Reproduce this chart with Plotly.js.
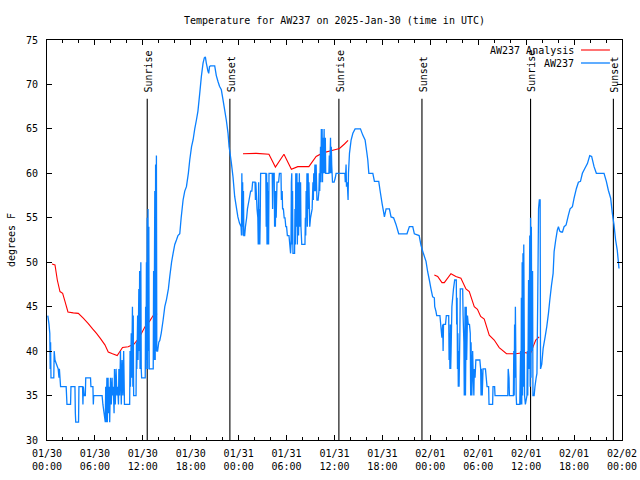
<!DOCTYPE html>
<html>
<head>
<meta charset="utf-8">
<script src="https://cdn.plot.ly/plotly-3.0.1.min.js"></script>
<style>html,body{margin:0;padding:0;background:#fff;}#chart{width:640px;height:480px;}</style>
</head>
<body>
<div id="chart"></div>
<script>
// Hours since 2025-01-30 00:00 UTC, temperature in degrees F
const aw237Obs = [
[0.1,44],[0.25,43],[0.35,42],[0.4,38],[0.45,41],[0.5,37],[0.6,37],[0.85,37],[0.9,40],[1.0,39],[1.2,38.5],[1.4,38],[1.5,37],[1.55,38],[1.7,36],[2.4,36],[2.45,35],[2.5,34],[2.95,34],[3.0,36],[3.5,36],[3.55,33],[3.6,32],[3.95,32],[4.0,36],[4.45,36],[4.5,34],[4.55,36],[4.65,35],[4.8,35],[4.85,37],[5.45,37],[5.5,36],[5.75,36],[5.8,34],[5.85,35],[6.9,35],[7.0,34],[7.15,33],[7.3,32],[7.35,36],[7.4,32],[7.5,37],[7.55,32],[7.65,37],[7.7,33],[7.8,36],[7.85,32],[7.95,37],[8.05,34],[8.15,37],[8.2,35],[8.3,36],[8.4,33],[8.45,38],[8.55,34],[8.65,38],[8.75,35],[8.85,36],[8.95,34],[9.0,38],[9.1,35],[9.2,40],[9.3,34],[9.4,39],[9.5,35],[9.6,40],[9.7,34],[10.35,34],[10.4,40],[10.45,36],[10.55,42],[10.6,37],[10.7,45],[10.75,36],[10.8,44],[10.85,35],[11.15,35],[11.2,41],[11.25,38],[11.35,44],[11.4,39],[11.5,47],[11.55,40],[11.6,49],[11.65,38],[11.75,50],[11.8,38],[11.85,37],[12.3,37],
[12.35,45],[12.4,38],[12.45,50],[12.5,39],[12.55,55],[12.6,38],[12.65,56],[12.7,40],[12.75,54],[12.8,38],[12.9,38],[13.3,38],[13.35,49],[13.4,39],[13.5,58],[13.55,39],[13.6,61],[13.65,40],[13.7,62],[13.75,40],[13.85,40],[14.0,41],
[14.125,41.2],[14.3,42],[14.54,43.5],[14.75,45],[14.96,45.8],[15.2,47],[15.375,48.4],[15.6,50],[15.79,51],[16.0,52],[16.21,52.5],[16.4,53],[16.625,53.2],[16.8,55],[17.04,57],[17.25,58],[17.46,58.5],[17.7,60],[17.875,61.5],[18.1,63],[18.29,63.75],[18.5,65],[18.71,66],[18.9,67],[19.125,69],[19.33,70.9],[19.54,72.4],[19.7,73],[19.83,73.1],[19.95,72.4],[20.04,72],[20.15,71.5],[20.25,71.25],[20.35,72],[20.46,72.1],[21.0,72.1],[21.2,71],[21.42,70.3],[21.6,69.8],[21.83,69.4],[22.0,68.5],[22.25,67.1],[22.45,66],[22.67,64.5],[22.8,63],[22.9,62.4],[23.08,61.2],[23.29,59.6],[23.5,57.4],[23.7,56.25],[23.9,55.1],[24.1,54.4],[24.3,54],
[24.35,53],[24.4,60],[24.45,54],[24.5,59],[24.55,53],[24.6,58],[24.65,53],[24.75,53],[24.85,54],[25.0,55],[25.1,56],[25.3,57],[25.5,58],[25.65,58],[25.75,59],[26.05,59],[26.1,57],[26.15,59],[26.3,56],[26.4,55],[26.45,52],[26.5,59],[26.55,52],[26.6,56],[26.65,52],[26.7,55],[26.75,60],[27.4,60],[27.45,54],[27.5,60],[27.55,52],[27.6,59],[27.65,52],[27.7,58],[27.75,52],[27.8,60],[28.2,60],[28.25,56],[28.3,60],[28.45,60],[28.5,54],[28.55,58],[28.6,54],[28.65,58],[28.7,55],[28.8,59],[29.0,59],[29.1,60],[29.3,60],[29.35,57],[29.45,58],[29.5,56],[29.6,56],[29.7,55],[29.8,55],[29.9,54],[30.0,54],[30.1,53],[30.3,53],[30.4,52],[30.5,51],[30.55,52],[30.6,59],[30.65,60],[30.7,52],[30.75,58],[30.8,51],[31.0,51],[31.05,56],[31.1,52],[31.15,60],[31.2,54],[31.3,60],[31.35,52],[31.45,59],[31.5,53],[31.6,60],[31.65,54],[31.75,59],[31.8,54],[31.9,52],[32.3,52],[32.35,55],[32.4,53],[32.45,58],[32.5,55],[32.55,60],[32.6,54],[32.7,60],[32.75,56],[32.8,59],[32.9,54],[33.0,55],[33.2,56],[33.3,59],[33.35,57],[33.4,60],[33.45,58],[33.55,61],[33.6,58],[33.7,61],[33.8,57],[33.95,57],[34.05,58],[34.1,60],[34.15,58],[34.25,63],[34.3,59],[34.35,65],[34.4,60],[34.45,65],[34.5,59],[34.55,64],[34.6,60],[34.7,65],[34.75,60],[34.85,64],[34.9,60],[35.3,60],[35.35,62],[35.4,60],[35.5,64],[35.55,60],[35.6,63],[35.65,61],[35.75,59],[35.95,59],[36.1,59.5],[36.2,60],[37.3,60],
[37.35,59],[37.45,61],[37.5,58.5],[37.6,59],[37.7,57],[37.75,60],[37.875,62.25],[38.08,63.75],[38.3,64.5],[38.58,65],[39.25,65],[39.54,64.3],[39.83,63.75],[40.04,62.4],[40.17,61.5],[40.3,60],[40.8,60],[41.0,59.1],[41.54,59.1],[41.7,58.1],[41.96,56.6],[42.1,55.9],[42.25,55.1],[42.46,56],[42.875,56],[43.08,55.1],[43.4,55],[43.7,54.25],[44.04,53.2],[45.08,53.2],[45.375,54],[45.8,54],[46.0,53.2],[46.6,53],[46.83,51.9],[47.125,51],[47.46,50.1],[47.67,48.9],[47.875,48],
[48.08,47],[48.29,46.1],[48.5,46],[48.55,45],[48.7,44.5],[48.8,44],[49.2,44],[49.3,43],[49.4,42],[49.45,41.5],[49.55,43],[49.6,40],[49.65,43],[49.9,43],[50.0,44],[50.3,44],[50.35,39],[50.4,42],[50.45,38],[50.5,43],[50.55,38],[50.6,40],[50.7,45],[50.8,46],[50.9,47],[51.05,48],[51.25,48],[51.3,43],[51.35,46],[51.4,38],[51.45,42],[51.5,36],[51.55,40],[51.6,36],[51.7,42],[51.75,47],[52.05,47],[52.1,44],[52.2,41],[52.25,35],[52.35,45],[52.4,35],[52.5,45],[52.55,39],[52.65,44],[52.75,43],[52.9,43],[53.0,42],[53.05,35],[53.1,41],[53.2,35],[53.3,40],[53.35,38],[53.45,35],[53.5,38],[53.6,37],[53.7,39],[54.2,39],[54.3,38],[54.35,35],[54.4,38],[54.5,35],[54.6,38],[54.9,38],[55.0,37],[55.1,36],[55.3,36],[55.35,34],[55.8,34],[55.85,36],[56.05,36],[56.1,35],[57.7,35],[57.75,38],[57.85,37],[57.9,35],[58.4,35],[58.45,40],[58.5,35],[58.55,43],[58.6,37],[58.65,45],[58.75,35],[58.8,34],[59.2,34],[59.3,40],[59.35,34],[59.4,46],[59.45,34],[59.5,50],[59.55,35],[59.6,51],[59.65,36],[59.7,52],[59.8,35],[59.9,34],[60.1,35],[60.15,40],[60.2,35],[60.3,48],[60.35,38],[60.45,53],[60.5,36],[60.55,55],[60.6,37],[60.65,54],[60.7,40],[60.8,49],[60.85,35],[61.0,35],[61.1,36],[61.25,37],[61.35,37.5],[61.45,46],[61.55,56],[61.65,57],[61.75,57],[61.8,38],[61.95,38.5],[62.125,40.3],
[62.375,41.6],[62.58,42.75],[62.79,44.25],[62.96,45.75],[63.17,47.4],[63.375,48.75],[63.5,51.2],[63.7,52.5],[63.9,53.6],[64.04,54],[64.2,53.5],[64.375,53.4],[64.55,53.4],[64.75,54],[65.0,54.2],[65.29,55.3],[65.5,56],[65.79,56.25],[66.0,57.2],[66.29,58.3],[66.54,59],[66.8,59.1],[67.04,60],[67.375,60.6],[67.67,61.1],[67.96,62],[68.2,61.9],[68.5,60.75],[68.79,60],[69.75,60],[70.04,59.1],[70.29,58.1],[70.58,57.2],[70.79,55.5],[71.0,54.2],[71.2,52.5],[71.4,51.4],[71.625,49.3]
];
const obsHours = aw237Obs.map(p => p[0]);
const obsTemps = aw237Obs.map(p => p[1]);

// Analysis series (null = gap)
const analysisHours = [0.625,1.0,1.29,1.625,1.96,2.25,2.625,3.29,3.92,4.54,5.17,5.71,6.2,6.7,7.25,7.67,8.2,8.79,9.46,10.17,10.9,11.54,12.25,12.875,13.29,13.79,null,
  24.54,26.21,27.79,28.6,29.67,30.6,31.4,32.79,33.7,34.54,35.79,36.625,37.25,37.7,null,
  48.5,48.92,49.46,49.75,50.58,51.2,51.83,52.46,52.875,53.5,53.9,54.3,54.75,55.375,56.0,56.625,57.54,58.7,59.75,60.375,60.58,60.875,61.2,61.625];
const analysisTemps = [49.8,49.7,48.0,46.7,46.5,45.6,44.4,44.3,44.25,43.7,43.1,42.5,42.0,41.4,40.7,39.9,39.7,39.5,40.4,40.5,40.8,41.5,42.7,43.4,44.0,44.2,null,
  62.2,62.25,62.15,60.7,62.15,60.45,60.75,60.75,61.9,62.3,62.6,62.8,63.3,63.7,null,
  48.56,48.4,47.7,47.7,48.7,48.4,48.2,47.0,46.7,45.0,44.7,43.9,43.6,41.8,41.25,40.4,39.7,39.7,39.85,39.75,39.8,40.5,41.25,41.6];

const sunriseHours = [12.55, 36.55, 60.55];
const sunsetHours = [22.9, 46.95, 70.92];

const xTickVals = [0,6,12,18,24,30,36,42,48,54,60,66,72];
const xTickText = ["01/30<br>00:00","01/30<br>06:00","01/30<br>12:00","01/30<br>18:00",
  "01/31<br>00:00","01/31<br>06:00","01/31<br>12:00","01/31<br>18:00",
  "02/01<br>00:00","02/01<br>06:00","02/01<br>12:00","02/01<br>18:00","02/02<br>00:00"];

const seriesNames = ["AW237 Analysis", "AW237"];
const RED = "#ff0000", BLUE = "#0a80ff";
const FONT = {family: "DejaVu Sans Mono, Liberation Mono, monospace", size: 10, color: "#000"};
const Y_MIN = 30, Y_MAX = 75, LINE_TOP = 68.4, LABEL_Y = 69.0;

function vlines(hours) {
  const xs = [], ys = [];
  hours.forEach(h => { xs.push(h, h, null); ys.push(Y_MIN, LINE_TOP, null); });
  return {x: xs, y: ys};
}
const vl = vlines(sunriseHours.concat(sunsetHours));

const traces = [
  {x: vl.x, y: vl.y, mode: "lines", line: {color: "#000", width: 1.1}, hoverinfo: "skip", showlegend: false},
  {x: analysisHours, y: analysisTemps, mode: "lines", name: seriesNames[0], connectgaps: false,
   line: {color: RED, width: 1.1, simplify: false}, showlegend: false},
  {x: obsHours, y: obsTemps, mode: "lines", name: seriesNames[1],
   line: {color: BLUE, width: 1.3, simplify: false}, showlegend: false}
];

const annotations = [];
sunriseHours.forEach(h => annotations.push({x: h, y: LABEL_Y, xref: "x", yref: "y", text: "Sunrise",
  textangle: -90, showarrow: false, font: FONT, xshift: 1, yanchor: "bottom", borderpad: 0}));
sunsetHours.forEach(h => annotations.push({x: h, y: LABEL_Y, xref: "x", yref: "y", text: "Sunset",
  textangle: -90, showarrow: false, font: FONT, xshift: 1, yanchor: "bottom", borderpad: 0}));
// Legend (text right-aligned, sample line on the right, gnuplot style)
annotations.push({x: 0.919, y: 0.975, xref: "paper", yref: "paper", text: seriesNames[0], xanchor: "right", yanchor: "middle", showarrow: false, font: FONT, borderpad: 0});
annotations.push({x: 0.919, y: 0.9425, xref: "paper", yref: "paper", text: seriesNames[1], xanchor: "right", yanchor: "middle", showarrow: false, font: FONT, borderpad: 0});

const shapes = [
  {type: "line", xref: "paper", yref: "paper", x0: 0.9287, x1: 0.979, y0: 0.975, y1: 0.975, line: {color: RED, width: 1.1}},
  {type: "line", xref: "paper", yref: "paper", x0: 0.9287, x1: 0.979, y0: 0.9425, y1: 0.9425, line: {color: BLUE, width: 1.3}}
];

const layout = {
  width: 640, height: 480,
  margin: {l: 47, r: 18, t: 40, b: 40, pad: 0},
  paper_bgcolor: "#fff", plot_bgcolor: "#fff",
  font: FONT,
  title: {text: "Temperature for AW237 on 2025-Jan-30 (time in UTC)", font: FONT, x: 0.5, xref: "paper", xanchor: "center", y: 0.958, yref: "container", yanchor: "middle"},
  xaxis: {range: [0, 72], showline: true, linecolor: "#000", linewidth: 1, mirror: "ticks",
    ticks: "inside", ticklen: 5, tickwidth: 1, tickcolor: "#000",
    tickmode: "array", tickvals: xTickVals, ticktext: xTickText, tickfont: FONT,
    ticklabelstandoff: 4,
    minor: {tickmode: "linear", tick0: 0, dtick: 2, ticks: "inside", ticklen: 3, tickcolor: "#000", showgrid: false},
    showgrid: false, zeroline: false, fixedrange: true},
  yaxis: {range: [Y_MIN, Y_MAX], showline: true, linecolor: "#000", linewidth: 1, mirror: "ticks",
    ticks: "inside", ticklen: 5, tickwidth: 1, tickcolor: "#000", tick0: 30, dtick: 5,
    tickfont: FONT, ticklabelstandoff: 6,
    title: {text: "degrees F", font: FONT, standoff: 8},
    showgrid: false, zeroline: false, fixedrange: true},
  annotations: annotations,
  shapes: shapes,
  showlegend: false
};

Plotly.newPlot("chart", traces, layout, {displayModeBar: false, staticPlot: true});
</script>
</body>
</html>
